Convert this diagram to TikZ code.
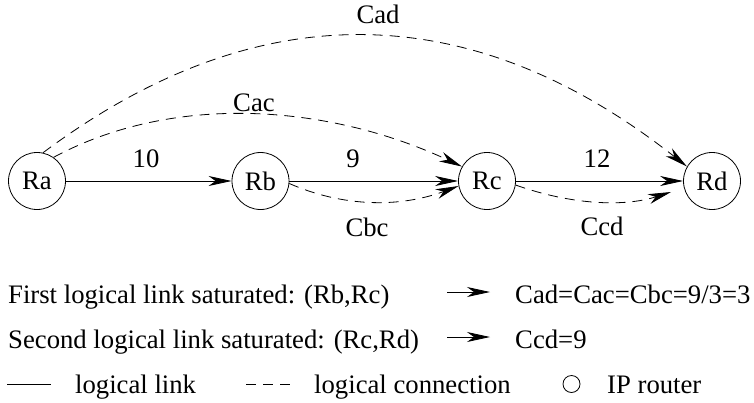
\documentclass[tikz,border=0pt]{standalone}
\usepackage{fontspec}
\setmainfont{LiberationSerif}[Extension=.ttf, UprightFont=*-Regular, BoldFont=*-Bold]
\usetikzlibrary{arrows.meta}
\tikzset{
  router/.style={draw, circle, minimum size=57pt, inner sep=0pt, line width=0.8pt},
  lbl/.style={font=\fontsize{26.7pt}{32pt}\selectfont, inner sep=0pt},
  tip/.style={-{Stealth[length=23pt,width=10pt,inset=7pt]}},
  link/.style={line width=0.8pt, tip},
  conn/.style={line width=0.8pt, dash pattern=on 10pt off 7pt, tip},
}
\begin{document}
\begin{tikzpicture}[x=1pt,y=-1pt]
\useasboundingbox (0,0) rectangle (754,402);
% routers
\node[router, lbl] (Ra) at (37,181) {Ra};
\node[router, lbl] (Rb) at (260.5,181) {Rb};
\node[router, lbl] (Rc) at (487,181) {Rc};
\node[router, lbl] (Rd) at (712,181) {Rd};
% logical links
\draw[link] (Ra) -- (Rb);
\draw[link] (Rb) -- (Rc);
\draw[link] (Rc) -- (Rd);
\node[lbl] (l10) at (146,159) {10};
\node[lbl] (l9) at (353,159) {9};
\node[lbl] (l12) at (597,159) {12};
% logical connections
\draw[conn] (Ra.78) .. controls (258,-8) and (472,-3) .. (Rd.150);
\draw[conn] (Ra.55) .. controls (175,92) and (330,105) .. (Rc.150);
\draw[conn] (Rb.-5) .. controls (343,207) and (399,208) .. (Rc.190);
\coordinate (ccdend) at (671,192);
\draw[conn] (Rc.-8) .. controls (572,205) and (624,207) .. (ccdend);
\node[lbl] (lcad) at (378,14) {Cad};
\node[lbl] (lcac) at (254,103) {Cac};
\node[lbl] (lcbc) at (367,227) {Cbc};
\node[lbl] (lccd) at (602,226) {Ccd};
% legend
\node[lbl, anchor=base west] (t1) at (8,303) {First logical link saturated: (Rb,Rc)};
\node[lbl, anchor=base west] (r1) at (515,303) {Cad=Cac=Cbc=9/3=3};
\coordinate (a1s) at (447,292);
\coordinate (a1e) at (490,292);
\draw[link] (a1s) -- (a1e);
\node[lbl, anchor=base west] (t2) at (8,348) {Second logical link saturated: (Rc,Rd)};
\node[lbl, anchor=base west] (r2) at (515,348) {Ccd=9};
\coordinate (a2s) at (447,337);
\coordinate (a2e) at (490,337);
\draw[link] (a2s) -- (a2e);
\coordinate (s1) at (7,384);
\coordinate (s2) at (51,384);
\draw[line width=0.8pt] (s1) -- (s2);
\node[lbl, anchor=base west] (t3) at (75,393) {logical link};
\coordinate (d1) at (246,384);
\coordinate (d2) at (290,384);
\draw[line width=0.8pt, dash pattern=on 10pt off 7pt] (d1) -- (d2);
\node[lbl, anchor=base west] (t4) at (314,393) {logical connection};
\node[draw, circle, minimum size=17pt, inner sep=0pt, line width=0.8pt] (lc) at (571.5,384) {};
\node[lbl, anchor=base west] (t5) at (607,393) {IP router};
\end{tikzpicture}
\end{document}
